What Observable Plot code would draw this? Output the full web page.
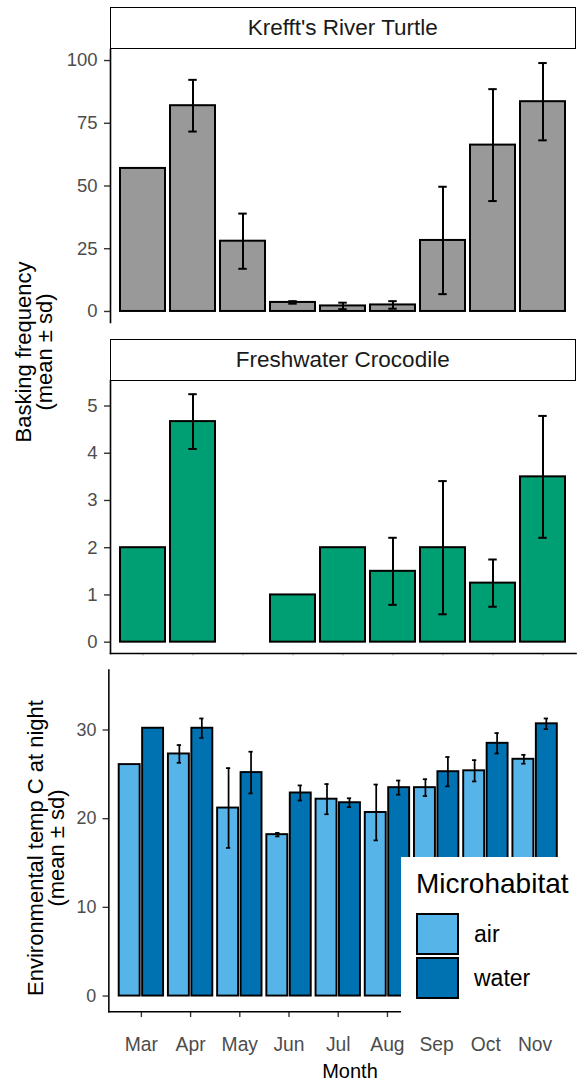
<!DOCTYPE html>
<html>
<head>
<meta charset="utf-8">
<script src="https://cdn.jsdelivr.net/npm/d3@7"></script>
<script src="https://cdn.jsdelivr.net/npm/@observablehq/plot@0.6"></script>
<style>
  html, body { margin: 0; padding: 0; background: #fff; }
  #root { position: relative; width: 579px; height: 1082px; overflow: hidden; background: #fff;
          font-family: "Liberation Sans", Arial, sans-serif; color: #000; }
  .abs { position: absolute; }
  .strip { position: absolute; box-sizing: border-box; border: 1.6px solid #000; background: #fff;
           display: flex; align-items: center; justify-content: center; font-size: 22.5px; color: #1a1a1a; }
  .ytitle { position: absolute; width: 400px; height: 42px; line-height: 21px; font-size: 22px;
            text-align: center; transform: rotate(-90deg); white-space: nowrap; }
  .key { position: absolute; box-sizing: border-box; width: 43px; height: 42px; border: 2px solid #000; }
  .lab { position: absolute; font-size: 23px; line-height: 23px; white-space: nowrap; }
</style>
</head>
<body>
<div id="root"></div>
<script>
// ---------------- data ----------------
const months = ["Mar", "Apr", "May", "Jun", "Jul", "Aug", "Sep", "Oct", "Nov"];
const species = ["Krefft's River Turtle", "Freshwater Crocodile"];
const speciesColors = ["#999999", "#009E73"];
const habitats = ["air", "water"];
const habitatColors = ["#56B4E9", "#0072B2"];

const turtleMean = [57, 82, 28, 3.6, 2.2, 2.6, 28.3, 66.3, 83.6];
const turtleSd   = [null, 10.3, 11, 0.5, 1.3, 1.5, 21.4, 22.3, 15.4];

const crocMean = [2, 4.67, null, 1, 2, 1.5, 2, 1.25, 3.5];
const crocSd   = [null, 0.58, null, null, null, 0.71, 1.41, 0.5, 1.29];

const airMean   = [26.1, 27.3, 21.2, 18.2, 22.2, 20.7, 23.5, 25.4, 26.7];
const airSd     = [null, 1.0, 4.5, 0.2, 1.7, 3.15, 0.95, 1.2, 0.5];
const waterMean = [30.2, 30.2, 25.2, 22.9, 21.8, 23.5, 25.3, 28.5, 30.7];
const waterSd   = [null, 1.1, 2.35, 0.85, 0.5, 0.8, 1.65, 1.15, 0.6];

const turtleTicks = [0, 25, 50, 75, 100];
const crocTicks = [0, 1, 2, 3, 4, 5];
const tempTicks = [0, 10, 20, 30];

const yTitleBasking = ["Basking frequency", "(mean \u00b1 sd)"];
const yTitleTemp = ["Environmental temp C at night", "(mean \u00b1 sd)"];
const xTitle = "Month";
const legendTitle = "Microhabitat";

// ---------------- helpers ----------------
const FONT = "Liberation Sans, Arial, sans-serif";
const root = document.getElementById("root");
const rows = (mean, sd) => months.map((m, i) => ({month: m, mean: mean[i], sd: sd[i]}));
const lo = d => d.mean - d.sd, hi = d => d.mean + d.sd;

function place(el, left, top) {
  const wrap = document.createElement("div");
  wrap.className = "abs";
  wrap.style.left = left + "px";
  wrap.style.top = top + "px";
  wrap.appendChild(el);
  root.appendChild(wrap);
  return wrap;
}
function div(cls, css, html) {
  const d = document.createElement("div");
  if (cls) d.className = cls;
  Object.assign(d.style, css);
  if (html != null) d.innerHTML = html;
  root.appendChild(d);
  return d;
}

const axisY = ticks => Plot.axisY({ticks, tickFormat: d3.format("d"), tickSize: 6, tickPadding: 7, fontSize: 18.5,
  fill: "#4d4d4d", stroke: "#333", strokeWidth: 1.4, label: null});

// ---------------- basking panels ----------------
const W1 = 579, ML1 = 110, MR1 = 3.5;
const step1 = (W1 - ML1 - MR1) / 9.2, bw1 = step1 * 0.9, cap1 = 9;

function baskingPanel(data, color, ticks, ydom, mt, mb, bottomAxis) {
  const bars = data.filter(d => d.mean != null);
  const err = bars.filter(d => d.sd != null);
  const marks = [
    Plot.barY(bars, {x: "month", y: "mean", fill: color, stroke: "#000", strokeWidth: 2}),
    Plot.ruleX(err, {x: "month", y1: lo, y2: hi, stroke: "#000", strokeWidth: 2}),
    Plot.tickY(err, {x: "month", y: lo, stroke: "#000", strokeWidth: 2,
      insetLeft: (bw1 - cap1) / 2, insetRight: (bw1 - cap1) / 2}),
    Plot.tickY(err, {x: "month", y: hi, stroke: "#000", strokeWidth: 2,
      insetLeft: (bw1 - cap1) / 2, insetRight: (bw1 - cap1) / 2}),
    axisY(ticks),
    Plot.frame({anchor: "left", stroke: "#000", strokeWidth: 1.6})
  ];
  if (bottomAxis) {
    marks.push(Plot.axisX({tickSize: 2.5, tickFormat: () => "", stroke: "#aaa", strokeWidth: 1, label: null}));
    marks.push(Plot.frame({anchor: "bottom", stroke: "#000", strokeWidth: 1.6}));
  }
  return Plot.plot({
    width: W1, height: 330, marginLeft: ML1, marginRight: MR1, marginTop: mt, marginBottom: mb,
    style: {fontFamily: FONT, background: "transparent", overflow: "visible"},
    x: {type: "band", domain: months, paddingInner: 0.1, paddingOuter: 0.15, axis: null, label: null},
    y: {domain: ydom, label: null},
    marks
  });
}

place(baskingPanel(rows(turtleMean, turtleSd), speciesColors[0], turtleTicks, [-4.4, 104.4], 49, 8, false), 0, 0);
place(baskingPanel(rows(crocMean, crocSd), speciesColors[1], crocTicks, [-0.24, 5.54], 50, 7, true), 0, 330);

// strips
div("strip", {left: ML1 + "px", top: "7px", width: (W1 - ML1 - MR1) + "px", height: "42px"}, species[0]);
div("strip", {left: ML1 + "px", top: "339px", width: (W1 - ML1 - MR1) + "px", height: "42px"}, species[1]);

// ---------------- temperature panel ----------------
const W3 = 600, ML3 = 112.3, MR3 = 11.6;
const step3 = (W3 - ML3 - MR3) / 9.2, bw3 = step3 * 0.9, cap3 = 5, gap3 = 1;
const temp = months.map((m, i) => ({month: m, air: airMean[i], airSd: airSd[i], water: waterMean[i], waterSd: waterSd[i]}));
const airErr = temp.filter(d => d.airSd != null).map(d => ({month: d.month, mean: d.air, sd: d.airSd}));
const waterErr = temp.filter(d => d.waterSd != null).map(d => ({month: d.month, mean: d.water, sd: d.waterSd}));

const p3 = Plot.plot({
  width: W3, height: 422, marginLeft: ML3, marginRight: MR3, marginTop: 10, marginBottom: 58,
  style: {fontFamily: FONT, background: "transparent", overflow: "visible"},
  x: {type: "band", domain: months, paddingInner: 0.1, paddingOuter: 0.15, label: null},
  y: {domain: [-1.77, 36.75], label: null},
  marks: [
    Plot.barY(temp, {x: "month", y: "air", fill: habitatColors[0], stroke: "#000", strokeWidth: 2, insetRight: bw3 / 2 + gap3}),
    Plot.barY(temp, {x: "month", y: "water", fill: habitatColors[1], stroke: "#000", strokeWidth: 2, insetLeft: bw3 / 2 + gap3}),
    Plot.ruleX(airErr, {x: "month", y1: lo, y2: hi, dx: -bw3 / 4, stroke: "#000", strokeWidth: 1.8}),
    Plot.ruleX(waterErr, {x: "month", y1: lo, y2: hi, dx: bw3 / 4, stroke: "#000", strokeWidth: 1.8}),
    ...[lo, hi].map(f => Plot.tickY(airErr, {x: "month", y: f, stroke: "#000", strokeWidth: 1.8,
      insetLeft: bw3 / 4 - cap3 / 2, insetRight: 3 * bw3 / 4 - cap3 / 2})),
    ...[lo, hi].map(f => Plot.tickY(waterErr, {x: "month", y: f, stroke: "#000", strokeWidth: 1.8,
      insetLeft: 3 * bw3 / 4 - cap3 / 2, insetRight: bw3 / 4 - cap3 / 2})),
    axisY(tempTicks),
    Plot.axisX({tickSize: 6, tickPadding: 20, fontSize: 20, fill: "#4d4d4d", stroke: "#333", strokeWidth: 1.4, label: null}),
    Plot.frame({anchor: "left", stroke: "#000", strokeWidth: 1.6}),
    Plot.frame({anchor: "bottom", stroke: "#000", strokeWidth: 1.6})
  ]
});
place(p3, 0, 660);

// ---------------- titles ----------------
div("ytitle", {left: (34 - 200) + "px", top: (352 - 21) + "px"}, yTitleBasking.join("<br>"));
div("ytitle", {left: (46 - 200) + "px", top: (848 - 21) + "px"}, yTitleTemp.join("<br>"));
div("abs", {left: "250px", top: "1061px", width: "200px", textAlign: "center", fontSize: "20px", lineHeight: "20px"}, xTitle);

// ---------------- legend ----------------
div("abs", {left: "401px", top: "857px", width: "200px", height: "160px", background: "#fff"});
div("abs", {left: "416px", top: "870px", fontSize: "28px", lineHeight: "28px", whiteSpace: "nowrap"}, legendTitle);
habitats.forEach((h, i) => {
  div("key", {left: "416px", top: (913 + i * 44) + "px", background: habitatColors[i]});
  div("lab", {left: "474px", top: (922.5 + i * 44) + "px"}, h);
});
</script>
</body>
</html>
